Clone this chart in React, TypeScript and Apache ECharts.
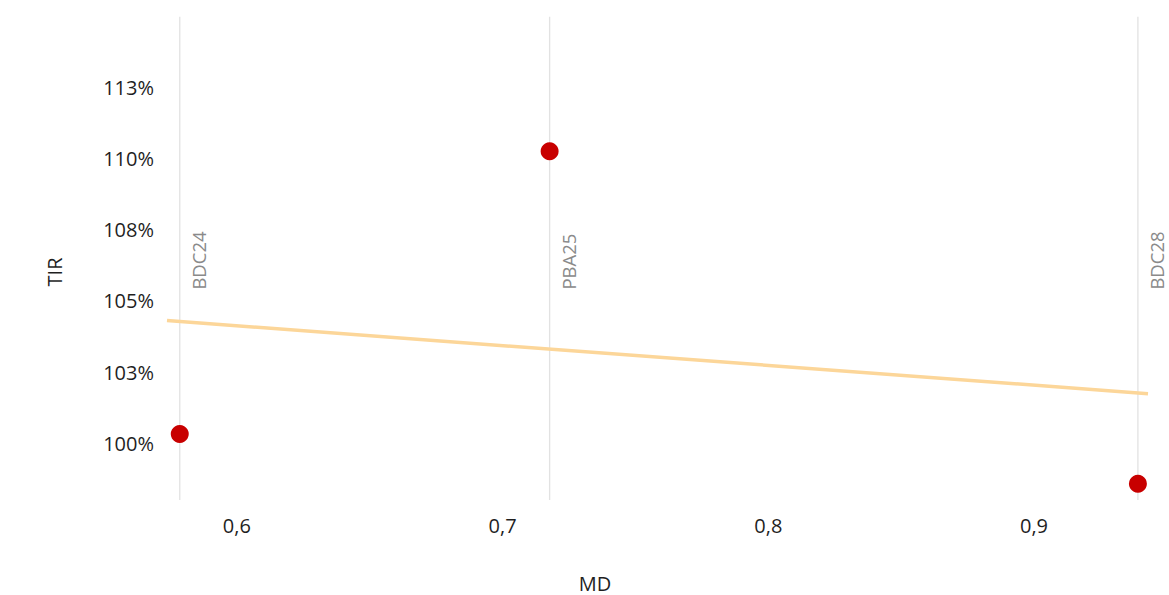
import React, { useEffect, useRef } from "react";
import * as echarts from "echarts";

// ---- data ----
const bondNames = ["BDC24", "PBA25", "BDC28"];
const mdValues = [0.5785, 0.7177, 0.9391];
const tirValues = [100.32, 110.27, 98.57];
// trend line end points (MD, TIR)
const trendMd = [0.5737, 0.9429];
const trendTir = [104.31, 101.74];
// axis ticks
const xTickValues = [0.6, 0.7, 0.8, 0.9];
const yTickValues = [100, 102.5, 105, 107.5, 110, 112.5];
const xRange = [0.5737, 0.9429];
const yRange = [98, 115];
const labelAnchorTir = 105.4;

const FONT = '"Open Sans", "Liberation Sans", sans-serif';

export default function App() {
  const ref = useRef<HTMLDivElement>(null);

  useEffect(() => {
    document.body.style.margin = "0";
    if (!ref.current) return;
    const chart = echarts.init(ref.current, undefined, { renderer: "svg" });

    const option: any = {
      animation: false,
      backgroundColor: "#ffffff",
      grid: { left: 167, right: 21, top: 16.7, bottom: 95, containLabel: false },
      xAxis: {
        type: "value",
        min: xRange[0],
        max: xRange[1],
        axisLine: { show: false },
        axisTick: { show: false },
        splitLine: { show: false },
        axisLabel: {
          customValues: xTickValues,
          formatter: (v: number) => v.toFixed(1).replace(".", ","),
          fontSize: 20,
          fontFamily: FONT,
          color: "#1f1f1f",
          margin: 15,
        },
      },
      yAxis: {
        type: "value",
        min: yRange[0],
        max: yRange[1],
        axisLine: { show: false },
        axisTick: { show: false },
        splitLine: { show: false },
        axisLabel: {
          customValues: yTickValues,
          formatter: (v: number) => Math.round(v) + "%",
          fontSize: 20,
          fontFamily: FONT,
          color: "#1f1f1f",
          margin: 13,
        },
      },
      graphic: [
        {
          type: "text",
          x: 54.5,
          y: 272,
          rotation: Math.PI / 2,
          style: {
            text: "TIR",
            fill: "#1f1f1f",
            fontSize: 20,
            fontFamily: FONT,
            align: "center",
            verticalAlign: "middle",
          },
        },
        {
          type: "text",
          x: 595,
          y: 583,
          style: {
            text: "MD",
            fill: "#1f1f1f",
            fontSize: 20,
            fontFamily: FONT,
            align: "center",
            verticalAlign: "middle",
          },
        },
      ],
      series: [
        {
          type: "custom",
          z: 1,
          silent: true,
          encode: { x: 0, y: 1 },
          data: mdValues.map((m, i) => [m, tirValues[i]]),
          renderItem: (params: any, api: any) => {
            const x = api.value(0);
            const top = api.coord([x, yRange[1]]);
            const bot = api.coord([x, yRange[0]]);
            const lab = api.coord([x, labelAnchorTir]);
            return {
              type: "group",
              children: [
                {
                  type: "line",
                  shape: { x1: top[0], y1: top[1], x2: bot[0], y2: bot[1] },
                  style: { stroke: "#e2e2e2", lineWidth: 1.3 },
                },
                {
                  type: "text",
                  x: lab[0] + 19,
                  y: lab[1],
                  rotation: Math.PI / 2,
                  style: {
                    text: bondNames[params.dataIndex],
                    fill: "#8a8a8a",
                    fontSize: 18.5,
                    fontFamily: FONT,
                    align: "left",
                    verticalAlign: "middle",
                  },
                },
              ],
            };
          },
        },
        {
          type: "line",
          z: 2,
          silent: true,
          showSymbol: false,
          symbol: "none",
          data: trendMd.map((m, i) => [m, trendTir[i]]),
          lineStyle: { color: "#fcd699", width: 3.5 },
        },
        {
          type: "scatter",
          z: 3,
          symbolSize: 18,
          itemStyle: { color: "#c80000", opacity: 1 },
          data: mdValues.map((m, i) => [m, tirValues[i]]),
        },
      ],
    };

    chart.setOption(option);
    return () => chart.dispose();
  }, []);

  return <div ref={ref} style={{ width: 1169, height: 595 }} />;
}
